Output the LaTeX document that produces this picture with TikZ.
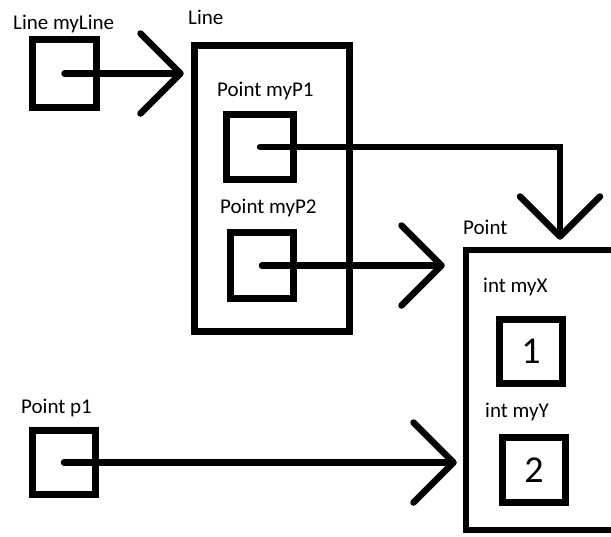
\documentclass[tikz,border=0pt]{standalone}
\usepackage{fontspec}
\setmainfont{Carlito}
\usetikzlibrary{arrows.meta}
\begin{document}
\begin{tikzpicture}[x=1pt,y=-1pt,
  box/.style={draw,line width=6.5pt,inner sep=0pt,rectangle},
  lbl/.style={anchor=base west,inner sep=0pt,font=\fontsize{21}{25}\selectfont},
  num/.style={inner sep=0pt,font=\fontsize{38}{44}\selectfont},
  conn/.style={line width=6.5pt,line cap=round,
    -{Straight Barb[length=40pt,width=80pt,round]}}]
\useasboundingbox (0,0) rectangle (611,536);
% boxes
\node[box,minimum width=64pt,minimum height=68pt] (ml) at (64.5,73.5) {};
\node[box,minimum width=155pt,minimum height=286pt] (L) at (272,188.5) {};
\node[box,minimum width=67pt,minimum height=65pt] (mp1) at (260,147) {};
\node[box,minimum width=63pt,minimum height=66pt] (mp2) at (262,265.5) {};
\node[box,minimum width=188pt,minimum height=280pt] (P) at (560,390) {};
\node[box,minimum width=63pt,minimum height=64pt] (bx) at (531,351.5) {};
\node[box,minimum width=63pt,minimum height=65pt] (by) at (534,470) {};
\node[box,minimum width=63pt,minimum height=64pt] (pp1) at (64,462.5) {};
% numbers
\node[num] (n1) at (bx.center) {1};
\node[num] (n2) at (by.center) {2};
% labels
\node[lbl] (tml) at (13,29) {Line myLine};
\node[lbl] (tL) at (188,24) {Line};
\node[lbl] (tmp1) at (217,96) {Point myP1};
\node[lbl] (tmp2) at (220,213) {Point myP2};
\node[lbl] (tP) at (463,234) {Point};
\node[lbl] (tx) at (483,292) {int myX};
\node[lbl] (ty) at (485,417) {int myY};
\node[lbl] (tp1) at (21,413) {Point p1};
% connectors
\draw[conn,shorten >=7.5pt] (ml.center) -- (ml.center -| L.west);
\draw[conn,shorten >=7pt] (mp1.center) -| (P.north);
\draw[conn,shorten >=18pt] (mp2.center) -- (mp2.center -| P.west);
\draw[conn,shorten >=6pt] (pp1.center) -- (pp1.center -| P.west);
\end{tikzpicture}
\end{document}
